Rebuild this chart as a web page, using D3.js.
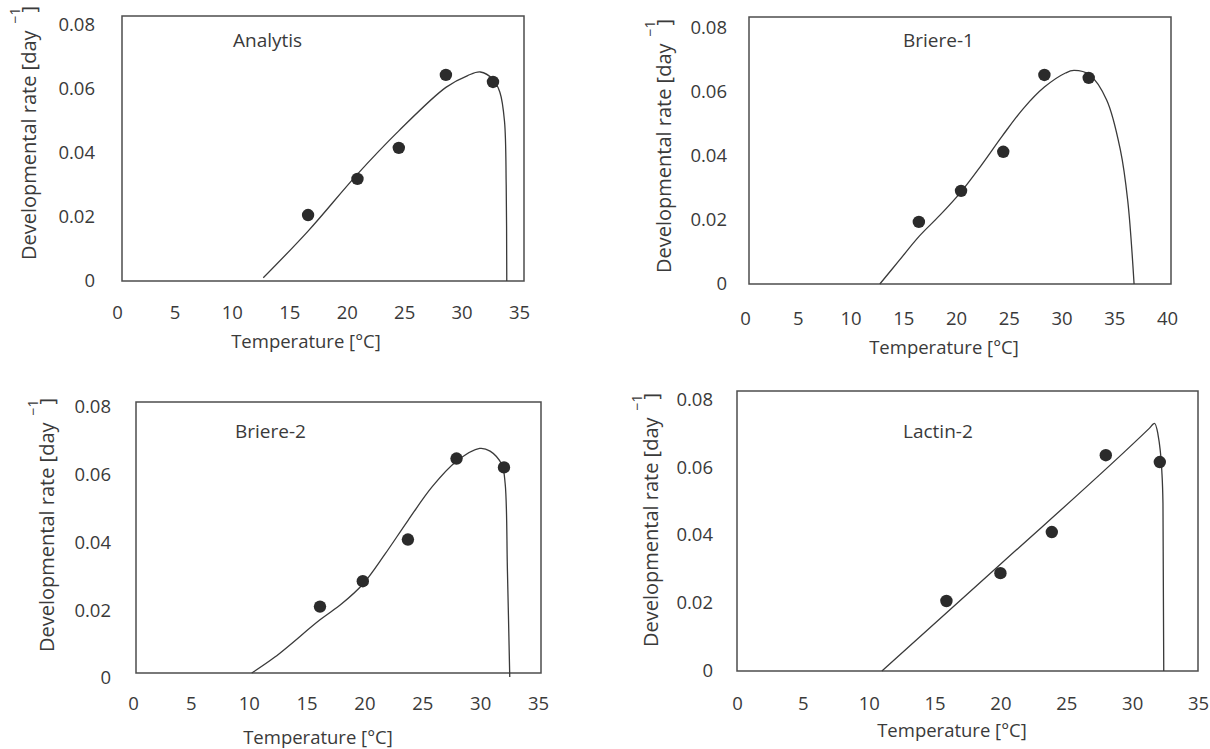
<!DOCTYPE html>
<html>
<head>
  <meta charset="utf-8">
  <title>Developmental rate vs temperature, four models</title>
  <style>
    body {
      margin: 0;
      padding: 0;
      background: #ffffff;
      font-family: 'Open Sans', sans-serif;
    }
    text {
      fill: #3a3a3a;
    }
    .frame {
      fill: none;
      stroke: #4d4d4d;
      stroke-width: 1.5;
    }
    .fit {
      fill: none;
      stroke: #3a3a3a;
      stroke-width: 1.3;
    }
    .obs {
      fill: #2b2b2b;
    }
    .tick text {
      font-size: 18.5px;
      fill: #3a3a3a;
    }
    .xtitle {
      font-size: 18.5px;
    }
    .ytitle {
      font-size: 20px;
    }
    .model {
      font-size: 19px;
    }
  </style>
</head>
<body>
  <svg id="chart" width="1210" height="749"></svg>

  <script src="https://d3js.org/d3.v7.min.js"></script>
  <script>

  // ---- data ----
  var tempTicks35 = [0, 5, 10, 15, 20, 25, 30, 35]
  var tempTicks40 = [0, 5, 10, 15, 20, 25, 30, 35, 40]
  var rateTicks = [0, 0.02, 0.04, 0.06, 0.08]

  // observed rates
  var analytisObsT = [16.2, 20.5, 24.1, 28.2, 32.3]
  var analytisObsR = [0.0206, 0.0319, 0.0416, 0.0644, 0.0622]
  var briere1ObsT = [16.1, 20.1, 24.1, 28.0, 32.2]
  var briere1ObsR = [0.0194, 0.0291, 0.0413, 0.0653, 0.0644]
  var briere2ObsT = [15.9, 19.6, 23.5, 27.7, 31.8]
  var briere2ObsR = [0.0196, 0.0271, 0.0394, 0.0633, 0.0607]
  var lactin2ObsT = [15.9, 20.0, 23.9, 28.0, 32.1]
  var lactin2ObsR = [0.0206, 0.0288, 0.0409, 0.0635, 0.0615]

  // fitted curves (traced)
  var analytisFitT = [12.3, 16.2, 20.5, 24.1, 28.2, 30.1, 31.2, 32.3, 32.9, 33.3, 33.45, 33.5]
  var analytisFitR = [0.001, 0.0156, 0.0334, 0.0469, 0.0605, 0.0642, 0.0653, 0.063, 0.059, 0.05, 0.03, 0]
  var briere1FitT = [12.4, 14.2, 16.1, 18.1, 20.1, 22.0, 24.0, 26.0, 28.0, 30.0, 30.8, 32.3, 33.9, 35.2, 35.9, 36.5]
  var briere1FitR = [0, 0.0072, 0.0148, 0.0215, 0.0288, 0.037, 0.0462, 0.0548, 0.0615, 0.0659, 0.0667, 0.0653, 0.0575, 0.0419, 0.026, 0]
  var briere2FitT = [10.0, 12.0, 15.9, 17.8, 19.6, 21.5, 23.5, 25.6, 27.7, 29.7, 30.6, 31.6, 31.9, 32.1, 32.3]
  var briere2FitR = [0, 0.0047, 0.0157, 0.0205, 0.0262, 0.035, 0.045, 0.055, 0.0625, 0.0663, 0.0655, 0.0616, 0.056, 0.03, -0.0012]
  var lactin2FitT = [11.0, 20.0, 31.3, 31.7, 31.95, 32.13, 32.25, 32.34, 32.4]
  var lactin2FitR = [0, 0.0314, 0.0714, 0.0729, 0.0699, 0.065, 0.0591, 0.0494, 0]

  // ---- panel layout ----
  var panels = [
    { name: "Analytis", obsT: analytisObsT, obsR: analytisObsR, fitT: analytisFitT, fitR: analytisFitR,
      xMax: 35, xTicks: tempTicks35, yMax: 0.0828, box: [122, 16, 524, 281], curve: d3.curveCatmullRom.alpha(0.5),
      xDx: -5, yDy: 0, xPad: 25, yPad: 27, xTitle: [306, 348], yTitle: [36, 260], label: [233, 47] },
    { name: "Briere-1", obsT: briere1ObsT, obsR: briere1ObsR, fitT: briere1FitT, fitR: briere1FitR,
      xMax: 40, xTicks: tempTicks40, yMax: 0.0834, box: [749, 17, 1171, 284], curve: d3.curveCatmullRom.alpha(0.5),
      xDx: -4, yDy: 0, xPad: 28, yPad: 22, xTitle: [944, 354], yTitle: [671, 273], label: [903, 47] },
    { name: "Briere-2", obsT: briere2ObsT, obsR: briere2ObsR, fitT: briere2FitT, fitR: briere2FitR,
      xMax: 35, xTicks: tempTicks35, yMax: 0.08, box: [136, 402, 541, 673], curve: d3.curveCatmullRom.alpha(0.5),
      xDx: -3, yDy: 5, xPad: 24, yPad: 25, xTitle: [318, 744], yTitle: [54, 652], label: [235, 438] },
    { name: "Lactin-2", obsT: lactin2ObsT, obsR: lactin2ObsR, fitT: lactin2FitT, fitR: lactin2FitR,
      xMax: 35, xTicks: tempTicks35, yMax: 0.0824, box: [737, 391, 1198, 671], curve: d3.curveMonotoneX,
      xDx: 0, yDy: 0, xPad: 26, yPad: 24, xTitle: [952, 737], yTitle: [658, 647], label: [903, 438] }
  ]

  var svg = d3.select("#chart")

  var rateFormat = function (d) { return d === 0 ? "0" : d3.format(".2f")(d) }

  panels.forEach(function (p) {
    var x0 = p.box[0], y0 = p.box[1], x1 = p.box[2], y1 = p.box[3]

    var x = d3.scaleLinear().domain([0, p.xMax]).range([x0, x1])
    var y = d3.scaleLinear().domain([0, p.yMax]).range([y1, y0])

    var g = svg.append("g")

    // x axis labels (no tick marks, no domain line)
    var xAxis = g.append("g")
      .attr("transform", "translate(0," + y1 + ")")
      .call(d3.axisBottom(x).tickValues(p.xTicks).tickSize(0).tickPadding(p.xPad).tickFormat(d3.format("d")))
    xAxis.select(".domain").remove()
    xAxis.selectAll("text").attr("font-family", "'Open Sans', sans-serif").attr("dx", p.xDx)

    // y axis labels
    var yAxis = g.append("g")
      .attr("transform", "translate(" + x0 + ",0)")
      .call(d3.axisLeft(y).tickValues(rateTicks).tickSize(0).tickPadding(p.yPad).tickFormat(rateFormat))
    yAxis.select(".domain").remove()
    yAxis.selectAll("text").attr("font-family", "'Open Sans', sans-serif")
      .attr("transform", "translate(0," + p.yDy + ")")

    // plot frame
    g.append("rect")
      .attr("class", "frame")
      .attr("x", x0)
      .attr("y", y0)
      .attr("width", x1 - x0)
      .attr("height", y1 - y0)

    // fitted curve
    var fit = p.fitT.map(function (t, i) { return [t, p.fitR[i]] })
    var line = d3.line()
      .x(function (d) { return x(d[0]) })
      .y(function (d) { return y(d[1]) })
      .curve(p.curve)
    g.append("path")
      .datum(fit)
      .attr("class", "fit")
      .attr("d", line)

    // observations
    var obs = p.obsT.map(function (t, i) { return [t, p.obsR[i]] })
    g.selectAll("circle.obs")
      .data(obs)
      .enter().append("circle")
      .attr("class", "obs")
      .attr("cx", function (d) { return x(d[0]) })
      .attr("cy", function (d) { return y(d[1]) })
      .attr("r", 6.2)

    // model name
    g.append("text")
      .attr("class", "model")
      .attr("x", p.label[0])
      .attr("y", p.label[1])
      .text(p.name)

    // x title
    g.append("text")
      .attr("class", "xtitle")
      .attr("text-anchor", "middle")
      .attr("x", p.xTitle[0])
      .attr("y", p.xTitle[1])
      .text("Temperature [°C]")

    // y title, rotated, with raised -1
    var yt = g.append("text")
      .attr("class", "ytitle")
      .attr("transform", "translate(" + p.yTitle[0] + "," + p.yTitle[1] + ") rotate(-90)")
    yt.append("tspan").text("Developmental rate [day")
    yt.append("tspan").attr("dx", 7).attr("dy", -16).style("font-size", "14px").text("\u22121")
    yt.append("tspan").attr("dx", -5).attr("dy", 16).text("]")
  })

  </script>
</body>
</html>
